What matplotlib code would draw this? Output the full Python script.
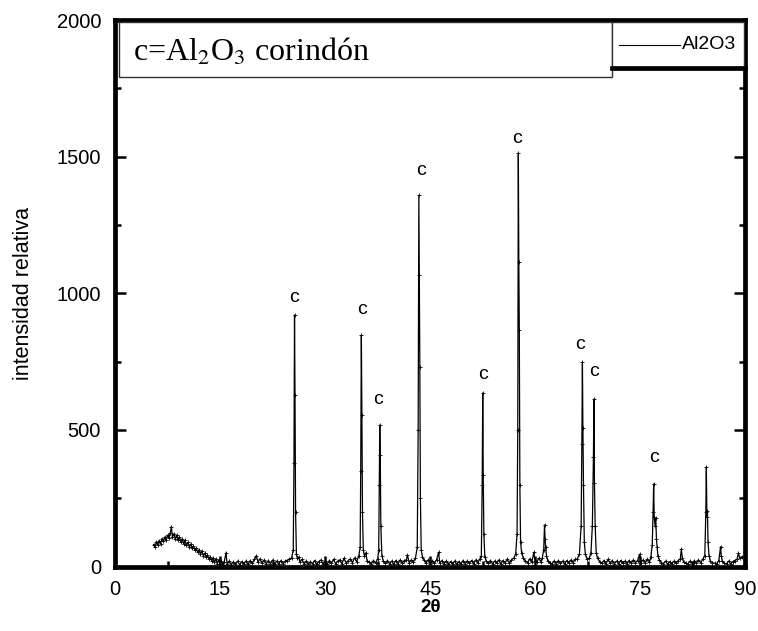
import matplotlib
matplotlib.use("Agg")
import matplotlib.pyplot as plt
from matplotlib.patches import Rectangle
from matplotlib.lines import Line2D
from matplotlib.ticker import MultipleLocator

plt.rcParams['font.family'] = ['Liberation Sans', 'DejaVu Sans']

# ---- data: diffractogram (2theta, intensity) ----
two_theta = [
    5.5, 5.7, 5.9, 6.1, 6.3, 6.5, 6.7, 6.9, 7.1, 7.3, 7.5, 7.7, 7.9, 8.05, 8.2, 8.4, 8.6, 8.8, 9.0, 9.2,
    9.4, 9.6, 9.8, 10.0, 10.2, 10.4, 10.6, 10.8, 11.0, 11.2, 11.4, 11.6, 11.8, 12.0, 12.2, 12.4, 12.6, 12.8, 13.0, 13.2,
    13.4, 13.6, 13.8, 14.0, 14.2, 14.4, 14.6, 14.8, 15.0, 15.2, 15.4, 15.6, 15.85, 16.0, 16.3, 16.6, 16.9,
    17.2, 17.5, 17.8, 18.1, 18.4, 18.7, 19.0, 19.3, 19.6, 19.9, 20.2, 20.4, 20.7, 21.0, 21.3, 21.6, 21.9, 22.2,
    22.5, 22.8, 23.1, 23.4, 23.7, 24.0, 24.3, 24.6, 24.9, 25.2, 25.45,
    25.55, 25.63, 25.70, 25.78, 25.9, 26.05, 26.2,
    26.4, 26.7, 27.0, 27.3, 27.6, 27.9, 28.2, 28.5, 28.8, 29.1, 29.4, 29.7, 30.0, 30.3, 30.6, 30.9, 31.2, 31.5,
    31.8, 32.1, 32.4, 32.7, 33.0, 33.3, 33.6, 33.9, 34.2, 34.5, 34.8, 35.0,
    35.08, 35.17, 35.25, 35.33, 35.45, 35.6, 35.8, 36.0,
    36.3, 36.6, 36.9, 37.2, 37.5, 37.65, 37.73, 37.8, 37.87, 37.95, 38.1, 38.3, 38.6, 38.9, 39.2, 39.5, 39.8,
    40.1, 40.4, 40.7, 41.0, 41.3, 41.6, 41.75, 42.0, 42.3, 42.6, 42.9, 43.15,
    43.28, 43.38, 43.45, 43.52, 43.6, 43.72, 43.9, 44.1, 44.4, 44.7, 45.0, 45.3, 45.6, 45.9, 46.2, 46.35,
    46.7, 47.0, 47.3, 47.6, 47.9, 48.2, 48.5, 48.8, 49.1, 49.4, 49.7, 50.0, 50.3, 50.6, 50.9, 51.2, 51.5,
    51.8, 52.1, 52.3,
    52.42, 52.5, 52.57, 52.66, 52.8, 53.0, 53.3, 53.6, 53.9, 54.2, 54.5, 54.8, 55.1, 55.4, 55.7, 56.0, 56.3,
    56.6, 56.9, 57.2, 57.4,
    57.5, 57.58, 57.65, 57.72, 57.8, 57.9, 58.05, 58.3, 58.6, 58.9, 59.2, 59.5, 59.8, 59.95, 60.2, 60.5,
    60.8, 61.0, 61.2, 61.32, 61.4, 61.48, 61.6, 61.8, 62.1, 62.4, 62.7, 63.0, 63.3, 63.6, 63.9, 64.2, 64.5,
    64.8, 65.1, 65.4, 65.7, 66.0, 66.3, 66.55,
    66.65, 66.73, 66.8, 66.88, 67.0, 67.15, 67.4, 67.7, 67.95, 68.15, 68.3, 68.38, 68.45, 68.55, 68.7, 68.9,
    69.2, 69.5, 69.8, 70.1, 70.4, 70.7, 71.0, 71.3, 71.6, 71.9, 72.2, 72.5, 72.8, 73.1, 73.4, 73.7, 74.0,
    74.3, 74.6, 74.9, 75.05, 75.4, 75.7, 76.0, 76.3, 76.5, 76.7,
    76.82, 76.9, 76.98, 77.1, 77.2, 77.3, 77.4, 77.5, 77.7, 78.0, 78.3, 78.6, 78.9, 79.2, 79.5, 79.8, 80.1,
    80.4, 80.7, 80.85, 81.0, 81.2, 81.5, 81.8, 82.1, 82.4, 82.7, 83.0, 83.3, 83.6, 83.9, 84.2, 84.35,
    84.42, 84.5, 84.58, 84.66, 84.8, 85.0, 85.3, 85.6, 85.9, 86.2, 86.45, 86.55, 86.7, 87.0, 87.3, 87.6,
    87.9, 88.2, 88.5, 88.8, 89.0, 89.2, 89.5,
]
intensity = [
    80, 70, 90, 80, 95, 84, 102, 92, 108, 96, 115, 104, 124, 146, 108, 120, 100, 114, 96, 108,
    90, 102, 84, 96, 78, 88, 72, 82, 66, 76, 60, 68, 52, 62, 46, 56, 40, 49, 34, 42,
    28, 36, 22, 30, 16, 28, 10, 24, 8, 20, 6, 18, 50, 8, 20, 6, 18,
    8, 20, 6, 18, 10, 20, 8, 22, 12, 26, 40, 16, 28, 12, 24, 10, 22, 10,
    24, 8, 20, 10, 22, 10, 20, 22, 28, 30, 60,
    380, 920, 627, 200, 45, 30, 35,
    16, 26, 10, 20, 8, 18, 10, 22, 8, 18, 24, 10, 20, 8, 22, 12, 26, 10,
    20, 24, 10, 30, 12, 22, 28, 14, 32, 18, 38, 70,
    350, 847, 554, 200, 60, 40, 50, 20,
    16, 10, 22, 12, 28, 60, 300, 518, 408, 150, 40, 20, 12, 22, 10, 20, 8,
    22, 10, 24, 12, 22, 24, 42, 14, 24, 16, 32, 70,
    500, 1358, 1066, 730, 250, 60, 35, 25, 14, 24, 10, 22, 12, 24, 52, 14,
    22, 10, 20, 8, 18, 10, 20, 8, 18, 10, 22, 10, 20, 12, 22, 10, 24,
    14, 28, 40,
    300, 635, 335, 120, 35, 20, 12, 22, 10, 20, 12, 24, 10, 22, 14, 26, 12,
    24, 30, 45, 120,
    500, 1513, 1114, 865, 300, 90, 50, 30, 20, 14, 28, 16, 52, 20, 18, 30,
    18, 32, 60, 152, 100, 70, 40, 20, 14, 10, 20, 10, 22, 12, 20, 10, 22,
    12, 24, 14, 26, 28, 45, 150,
    450, 748, 506, 300, 90, 45, 28, 30, 50, 150, 400, 613, 305, 150, 50, 30,
    18, 12, 22, 10, 26, 12, 22, 10, 20, 10, 22, 12, 20, 10, 22, 12, 24,
    14, 22, 45, 14, 24, 14, 26, 16, 35, 80,
    200, 302, 180, 150, 177, 100, 71, 40, 25, 14, 10, 20, 8, 18, 10, 20, 12,
    22, 28, 63, 30, 16, 12, 10, 20, 10, 22, 12, 24, 14, 26, 40, 200,
    364, 180, 203, 90, 40, 20, 14, 12, 10, 22, 72, 40, 20, 12, 10, 20,
    10, 18, 22, 26, 49, 30, 36,
]

# "c" (corundum) labels
label_pos = [25.6, 35.3, 37.5, 43.7, 52.5, 57.4, 66.4, 68.4, 76.9]
label_int = [986, 942, 613, 1450, 704, 1568, 814, 712, 400]

x_ticks = [0, 15, 30, 45, 60, 75, 90]
y_ticks = [0, 500, 1000, 1500, 2000]
series_name = "Al2O3"

# ---- figure ----
fig = plt.figure(figsize=(7.58, 6.31), dpi=100)
ax = fig.add_axes([0.1517, 0.1022, 0.8317, 0.8661])

ax.plot(two_theta, intensity, color='black', lw=0.9,
        marker='+', ms=3.5, mew=0.6)

for xp, yp in zip(label_pos, label_int):
    ax.text(xp, yp, 'c', ha='center', va='center', fontsize=14)

ax.set_xlim(0, 90)
ax.set_ylim(0, 2000)
ax.set_xticks(x_ticks)
ax.set_yticks(y_ticks)
ax.xaxis.set_minor_locator(MultipleLocator(7.5))
ax.yaxis.set_minor_locator(MultipleLocator(250))
ax.tick_params(which='major', direction='in', length=8, width=1.8,
               labelsize=14.5, top=True, right=True, pad=10)
ax.tick_params(axis='x', which='major', pad=10)
ax.tick_params(which='minor', direction='in', length=4, width=1.8,
               top=True, right=True)
for s in ax.spines.values():
    s.set_linewidth(3.4)

ax.set_xlabel('2θ', fontsize=13.5, fontweight='bold', labelpad=0)
ax.set_ylabel('intensidad relativa', fontsize=15.5, labelpad=16)

# text box
ax.add_patch(Rectangle((0.006, 0.895), 0.782, 0.101, transform=ax.transAxes,
                       facecolor='white', edgecolor='#333333', lw=1.0, zorder=5))
ax.text(0.028, 0.941, r'c=Al$_2$O$_3$ corindón', transform=ax.transAxes,
        fontsize=23, family='Liberation Serif', va='center', ha='left', zorder=6,
        math_fontfamily='stix')

# legend box
ax.add_patch(Rectangle((0.788, 0.913), 0.21, 0.083, transform=ax.transAxes,
                       facecolor='white', edgecolor='#333333', lw=1.0, zorder=5))
ax.add_line(Line2D([0.788, 1.0], [0.913, 0.913], transform=ax.transAxes,
                   color='black', lw=3.4, zorder=6, clip_on=False))
ax.add_line(Line2D([0.800, 0.897], [0.955, 0.955], transform=ax.transAxes,
                   color='black', lw=0.8, zorder=6))
ax.text(0.900, 0.955, series_name, transform=ax.transAxes, fontsize=14,
        va='center', ha='left', zorder=6)

fig.savefig('out.png', dpi=100)
